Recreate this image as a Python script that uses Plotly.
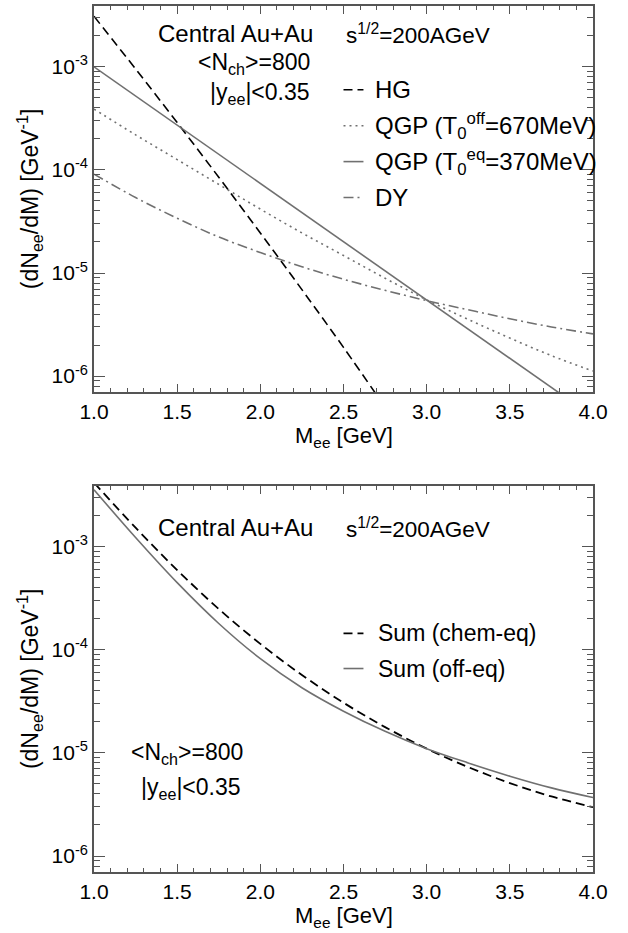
import plotly.graph_objects as go

# ---- data ----
mass = [1.0, 1.25, 1.5, 1.75, 2.0, 2.25, 2.5, 2.75, 3.0, 3.25, 3.5, 3.75, 4.0]

hg_mass = [1.0, 1.25, 1.5, 1.75, 2.0, 2.25, 2.5, 2.75]
hg = [3.09e-3, 9.55e-4, 2.88e-4, 8.5e-5, 2.45e-5, 6.9e-6, 1.9e-6, 5.0e-7]

qgp_eq_mass = [1.0, 1.5, 2.0, 2.5, 3.0, 3.5, 4.0]
qgp_eq = [1.0e-3, 2.72e-4, 7.40e-5, 2.01e-5, 5.47e-6, 1.49e-6, 4.05e-7]

qgp_off = [3.89e-4, 2.19e-4, 1.26e-4, 7.24e-5, 4.17e-5, 2.45e-5, 1.48e-5,
           8.9e-6, 5.5e-6, 3.55e-6, 2.34e-6, 1.58e-6, 1.12e-6]
dy = [9.1e-5, 5.4e-5, 3.4e-5, 2.24e-5, 1.58e-5, 1.15e-5, 8.7e-6,
      6.8e-6, 5.4e-6, 4.4e-6, 3.6e-6, 3.0e-6, 2.57e-6]

sum_chem = [4.18e-3, 1.53e-3, 5.94e-4, 2.49e-4, 1.143e-4, 5.70e-5, 3.07e-5,
            1.78e-5, 1.10e-5, 7.29e-6, 5.10e-6, 3.78e-6, 2.98e-6]
sum_off = [3.57e-3, 1.228e-3, 4.48e-4, 1.80e-4, 8.2e-5, 4.29e-5, 2.54e-5,
           1.62e-5, 1.10e-5, 7.99e-6, 5.95e-6, 4.58e-6, 3.69e-6]

y_major = [1e-6, 1e-5, 1e-4, 1e-3]
y_major_text = ["10<sup>-6</sup>", "10<sup>-5</sup>", "10<sup>-4</sup>", "10<sup>-3</sup>"]
y_minor = [m * 10.0 ** e for e in range(-7, -2) for m in range(2, 10)]
x_major = [1.0, 1.5, 2.0, 2.5, 3.0, 3.5, 4.0]
x_major_text = ["1.0", "1.5", "2.0", "2.5", "3.0", "3.5", "4.0"]

FONT = "Liberation Sans, Arial, sans-serif"
FRAME = "#555555"
GRAY = "#707070"

fig = go.Figure()

# top panel
fig.add_trace(go.Scatter(x=hg_mass, y=hg, mode="lines", xaxis="x", yaxis="y",
                         line=dict(color="black", width=1.6, dash="9px,5px", shape="spline")))
fig.add_trace(go.Scatter(x=mass, y=qgp_off, mode="lines", xaxis="x", yaxis="y",
                         line=dict(color=GRAY, width=1.6, dash="2px,4px", shape="spline")))
fig.add_trace(go.Scatter(x=qgp_eq_mass, y=qgp_eq, mode="lines", xaxis="x", yaxis="y",
                         line=dict(color=GRAY, width=1.6)))
fig.add_trace(go.Scatter(x=mass, y=dy, mode="lines", xaxis="x", yaxis="y",
                         line=dict(color=GRAY, width=1.6, dash="10px,4px,2px,4px", shape="spline")))
# bottom panel
fig.add_trace(go.Scatter(x=mass, y=sum_chem, mode="lines", xaxis="x2", yaxis="y2",
                         line=dict(color="black", width=1.8, dash="9px,5px", shape="spline")))
fig.add_trace(go.Scatter(x=mass, y=sum_off, mode="lines", xaxis="x2", yaxis="y2",
                         line=dict(color=GRAY, width=1.6, shape="spline")))

def xax(anchor):
    return dict(anchor=anchor, range=[1.0, 4.0], tickvals=x_major, ticktext=x_major_text,
                ticks="inside", ticklen=8, tickwidth=1.3, tickcolor=FRAME,
                minor=dict(dtick=0.1, ticks="inside", ticklen=4, tickwidth=1.1, tickcolor=FRAME),
                showline=True, linecolor=FRAME, linewidth=1.6, mirror="allticks",
                showgrid=False, zeroline=False,
                tickfont=dict(family=FONT, size=21, color="black"))

def yax(anchor, domain):
    return dict(anchor=anchor, domain=domain, type="log", range=[-6.155, -2.41],
                tickvals=y_major, ticktext=y_major_text,
                ticks="inside", ticklen=11, tickwidth=1.3, tickcolor=FRAME,
                minor=dict(tickvals=y_minor, ticks="inside", ticklen=6, tickwidth=1.1, tickcolor=FRAME),
                showline=True, linecolor=FRAME, linewidth=1.6, mirror="allticks",
                showgrid=False, zeroline=False,
                tickfont=dict(family=FONT, size=21, color="black"))

H_TOP = 387 / 868.0
fig.update_layout(
    width=628, height=933,
    margin=dict(l=94, r=35, t=4, b=61),
    paper_bgcolor="white", plot_bgcolor="white",
    showlegend=False,
    font=dict(family=FONT, size=22, color="black"),
    xaxis=xax("y"),
    yaxis=yax("x", [1 - H_TOP, 1.0]),
    xaxis2=xax("y2"),
    yaxis2=yax("x2", [0.0, H_TOP]),
)

ann = []
TS = 23
def txt(text, x, y, xref, yref, xanchor="center", size=TS, yanchor="middle", **kw):
    ann.append(dict(text=text, x=x, y=y, xref=xref, yref=yref, xanchor=xanchor,
                    yanchor=yanchor, showarrow=False, font=dict(family=FONT, size=size, color="black"), **kw))

# top panel texts
txt("Central Au+Au", 0.443, 0.928, "x domain", "y domain", xanchor="right", size=24)
txt("s<sup>1/2</sup>=200AGeV", 0.50, 0.928, "x domain", "y domain", xanchor="left", size=22.5)
txt("&lt;N<sub>ch</sub>&gt;=800", 0.437, 0.850, "x domain", "y domain", xanchor="right")
txt("|y<sub>ee</sub>|&lt;0.35", 0.437, 0.773, "x domain", "y domain", xanchor="right")

legend_top = [("HG", "9px,5px", "black"),
              ("QGP (T<sub>0</sub><sup>off</sup>=670MeV)", "2px,4px", GRAY),
              ("QGP (T<sub>0</sub><sup>eq</sup>=370MeV)", "solid", GRAY),
              ("DY", "10px,4px,2px,4px", GRAY)]
shapes = []
for i, (lab, dash, col) in enumerate(legend_top):
    yy = 0.783 - i * 0.093
    shapes.append(dict(type="line", xref="x domain", yref="y domain",
                       x0=0.50, x1=0.54, y0=yy, y1=yy, line=dict(color=col, width=1.6, dash=dash)))
    txt(lab, 0.56, yy, "x domain", "y domain", xanchor="left", size=24)

# bottom panel texts
txt("Central Au+Au", 0.443, 0.891, "x2 domain", "y2 domain", xanchor="right", size=24)
txt("s<sup>1/2</sup>=200AGeV", 0.50, 0.891, "x2 domain", "y2 domain", xanchor="left", size=22.5)
legend_bot = [("Sum (chem-eq)", "9px,5px", "black"), ("Sum (off-eq)", "solid", GRAY)]
for i, (lab, dash, col) in enumerate(legend_bot):
    yy = 0.618 - i * 0.091
    shapes.append(dict(type="line", xref="x2 domain", yref="y2 domain",
                       x0=0.50, x1=0.54, y0=yy, y1=yy, line=dict(color=col, width=1.6, dash=dash)))
    txt(lab, 0.565, yy, "x2 domain", "y2 domain", xanchor="left")
txt("&lt;N<sub>ch</sub>&gt;=800", 0.07, 0.307, "x2 domain", "y2 domain", xanchor="left")
txt("|y<sub>ee</sub>|&lt;0.35", 0.09, 0.217, "x2 domain", "y2 domain", xanchor="left")

# axis titles
for xr, yr in [("x domain", "y domain"), ("x2 domain", "y2 domain")]:
    txt("M<sub>ee</sub> [GeV]", 0.5, -0.157, xr, yr, size=22, yanchor="bottom")
    ann.append(dict(text="(dN<sub>ee</sub>/dM) [GeV<sup>-1</sup>]", x=-0.13, y=0.5,
                    xref=xr, yref=yr, textangle=-90, showarrow=False,
                    xanchor="center", yanchor="middle",
                    font=dict(family=FONT, size=23, color="black")))

fig.update_layout(annotations=ann, shapes=shapes)
fig.write_html("out.html")
